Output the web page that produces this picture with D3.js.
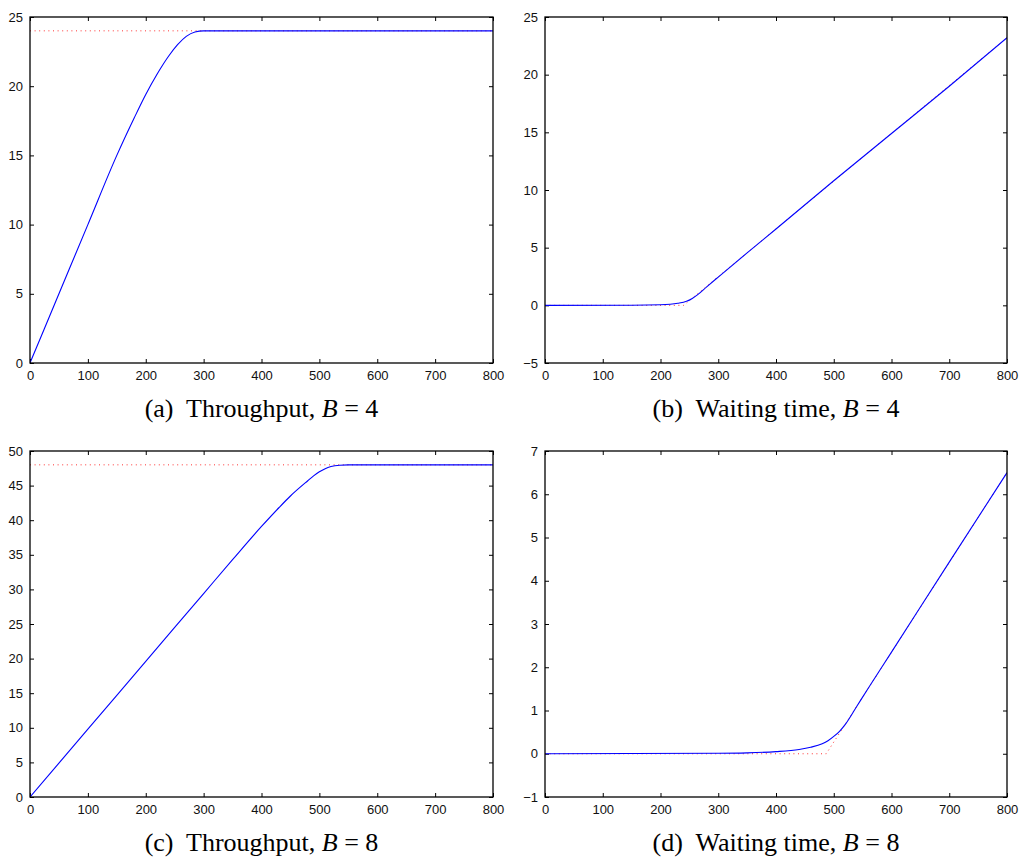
<!DOCTYPE html>
<html><head><meta charset="utf-8">
<script src="https://cdn.jsdelivr.net/npm/d3@7/dist/d3.min.js"></script>
<style>body{margin:0;background:#fff}</style>
</head><body>
<svg id="c" width="1021" height="858"></svg>
<script>
// ---- data ----
const xTicks = [0,100,200,300,400,500,600,700,800];
const ticksA = [0,5,10,15,20,25];
const ticksB = [-5,0,5,10,15,20,25];
const ticksC = [0,5,10,15,20,25,30,35,40,45,50];
const ticksD = [-1,0,1,2,3,4,5,6,7];

const thrB4X = [0,50,100,150,180,200,220,240,255,270,285,300,800];
const thrB4Y = [0,5,10,15,17.7,19.4,20.9,22.2,23.0,23.6,23.92,24,24];
const thrB4BoundX = [0,800];
const thrB4BoundY = [24,24];

const waitB4X = [0,150,200,230,245,255,265,280,300,350,400,500,600,700,800];
const waitB4Y = [0,0.01,0.05,0.18,0.35,0.6,0.95,1.6,2.45,4.55,6.62,10.8,14.9,19.0,23.2];
const waitB4BoundX = [0,240,800];
const waitB4BoundY = [0,0,23.2];

const thrB8X = [0,100,200,300,350,400,430,450,480,490,500,510,520,535,550,800];
const thrB8Y = [0,9.8,19.6,29.4,34.3,39.1,41.8,43.5,45.7,46.4,47.0,47.45,47.75,47.95,48,48];
const thrB8BoundX = [0,800];
const thrB8BoundY = [48,48];

const waitB8X = [0,300,350,400,440,460,480,490,500,510,520,540,560,600,700,800];
const waitB8Y = [0,0.01,0.02,0.05,0.1,0.15,0.23,0.3,0.4,0.52,0.68,1.1,1.52,2.35,4.43,6.5];
const waitB8BoundX = [0,487,800];
const waitB8BoundY = [0,0,6.5];

const captions = [
  {tag:"(a)", text:"Throughput,", b:"4"},
  {tag:"(b)", text:"Waiting time,", b:"4"},
  {tag:"(c)", text:"Throughput,", b:"8"},
  {tag:"(d)", text:"Waiting time,", b:"8"}
];

const svg = d3.select("#c");
const fmt = v => v < 0 ? "\u2212" + Math.abs(v) : String(v);

function panel(box, yTicks, curveX, curveY, boundX, boundY, cap) {
  const x = d3.scaleLinear().domain([0,800]).range([box.x0, box.x1]);
  const y = d3.scaleLinear().domain([yTicks[0], yTicks[yTicks.length-1]]).range([box.y1, box.y0]);
  const g = svg.append("g");
  const tk = 4;
  g.append("g").attr("transform",`translate(0,${box.y1})`)
    .call(d3.axisBottom(x).tickValues(xTicks).tickSize(-tk).tickPadding(8).tickFormat(fmt))
    .call(a=>a.select(".domain").remove());
  g.append("g").attr("transform",`translate(0,${box.y0})`)
    .call(d3.axisTop(x).tickValues(xTicks).tickSize(-tk).tickFormat(""))
    .call(a=>a.select(".domain").remove());
  g.append("g").attr("transform",`translate(${box.x0},0)`)
    .call(d3.axisLeft(y).tickValues(yTicks).tickSize(-tk).tickPadding(7).tickFormat(fmt))
    .call(a=>a.select(".domain").remove());
  g.append("g").attr("transform",`translate(${box.x1},0)`)
    .call(d3.axisRight(y).tickValues(yTicks).tickSize(-tk).tickFormat(""))
    .call(a=>a.select(".domain").remove());
  g.selectAll(".tick line").attr("stroke","#000").attr("stroke-width",1);
  g.selectAll(".tick text").attr("font-family","'Liberation Sans', Arial, sans-serif")
    .attr("font-size","13px").attr("fill","#111");
  const id = "clip" + Math.round(box.x0) + "_" + Math.round(box.y0);
  svg.append("clipPath").attr("id",id).append("rect")
    .attr("x",box.x0).attr("y",box.y0).attr("width",box.x1-box.x0).attr("height",box.y1-box.y0);
  const line = d3.line().x(d=>x(d[0])).y(d=>y(d[1]));
  const bound = boundX.map((v,i)=>[v,boundY[i]]);
  g.append("path").datum(bound).attr("clip-path",`url(#${id})`)
    .attr("d", line).attr("fill","none").attr("stroke","#ff3333")
    .attr("stroke-width",1).attr("stroke-dasharray","1,3.6");
  const crv = curveX.map((v,i)=>[v,curveY[i]]);
  g.append("path").datum(crv).attr("clip-path",`url(#${id})`)
    .attr("d", line.curve(d3.curveMonotoneX)).attr("fill","none").attr("stroke","#0000ff")
    .attr("stroke-width",1.1);
  g.append("rect").attr("x",box.x0).attr("y",box.y0).attr("width",box.x1-box.x0)
    .attr("height",box.y1-box.y0).attr("fill","none").attr("stroke","#000").attr("stroke-width",1.3);
  const t = svg.append("text").attr("x",(box.x0+box.x1)/2).attr("y",box.y1+54)
    .attr("text-anchor","middle").attr("font-family","'Liberation Serif','Times New Roman',serif")
    .attr("font-size","26px").attr("fill","#000");
  t.append("tspan").text(cap.tag + "\u00a0 " + cap.text + " ");
  t.append("tspan").attr("font-style","italic").text("B");
  t.append("tspan").text("\u00a0=\u00a0" + cap.b);
}

panel({x0:30,x1:493,y0:17,y1:363}, ticksA, thrB4X, thrB4Y, thrB4BoundX, thrB4BoundY, captions[0]);
panel({x0:545,x1:1007,y0:17,y1:363}, ticksB, waitB4X, waitB4Y, waitB4BoundX, waitB4BoundY, captions[1]);
panel({x0:30,x1:493,y0:451,y1:797}, ticksC, thrB8X, thrB8Y, thrB8BoundX, thrB8BoundY, captions[2]);
panel({x0:545,x1:1007,y0:451,y1:797}, ticksD, waitB8X, waitB8Y, waitB8BoundX, waitB8BoundY, captions[3]);
</script>
</body></html>
